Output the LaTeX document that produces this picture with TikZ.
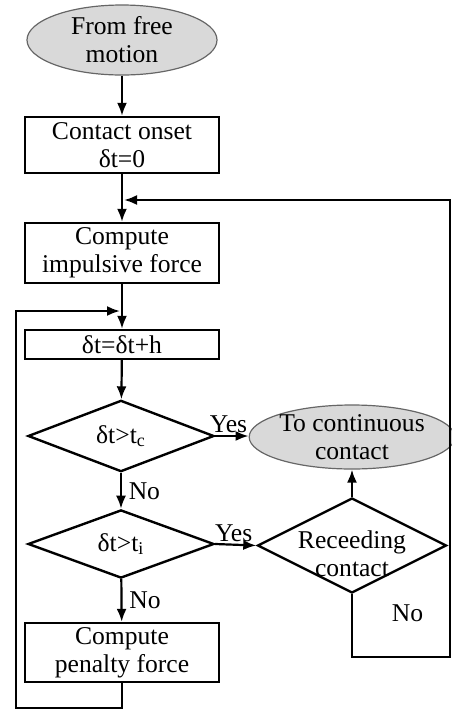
\documentclass[tikz,border=0pt]{standalone}
\usepackage{fontspec}
\setmainfont{Liberation Serif}
\usetikzlibrary{shapes.geometric,arrows.meta}

\begin{document}
\begin{tikzpicture}[x=0.5pt,y=-0.5pt,
    font=\fontsize{12.8pt}{14pt}\selectfont,
    term/.style={ellipse,draw=black!60,line width=0.6pt,fill=black!15,inner sep=0pt,align=center},
    proc/.style={rectangle,draw,line width=1.2pt,minimum width=97pt,inner sep=0pt,align=center},
    decide/.style={diamond,draw,line width=1.2pt,inner sep=0pt,minimum width=93pt,minimum height=31pt},
    flow/.style={-{Latex[length=6.5pt,width=5pt]},line width=1.1pt}]
  \useasboundingbox (0,0) rectangle (451,713);
  \node[term,minimum width=95pt,minimum height=35pt] (start) at (122,40) {From free\\motion};
  \node[proc,minimum height=28pt] (onset) at (122,145) {Contact onset\\δt=0};
  \node[proc,minimum height=30pt] (impulse) at (122,253) {Compute\\impulsive force};
  \node[proc,minimum height=14.5pt] (incr) at (122,344.5) {δt=δt+h};
  \node[decide] (tc) at (121,436) {δt>t\textsubscript{c}};
  \node[decide] (ti) at (121,544) {δt>t\textsubscript{i}};
  \node[proc,minimum height=29.5pt] (penalty) at (122,652.5) {Compute\\penalty force};
  \node[term,minimum width=94.5pt,minimum height=32pt] (cont) at (352,437) {To continuous\\contact};
  \node[decide,minimum width=94.5pt,minimum height=47.5pt,
    label={[align=center,yshift=-4pt]center:Receeding\\contact}] (recede) at (352,545.5) {};

  \coordinate (j1) at (124,200);
  \coordinate (r1) at (352,657);
  \coordinate (r2) at (450,657);
  \coordinate (r3) at (450,200);
  \coordinate (j2) at (120,311);
  \coordinate (p1) at (122,708);
  \coordinate (p2) at (16,708);
  \coordinate (p3) at (16,311);

  \draw[flow] (start) -- (onset);
  \draw[flow] (onset) -- (impulse);
  \draw[flow] (impulse) -- (incr);
  \draw[flow] (incr) -- (tc);
  \draw[flow] (tc) -- node[right]{No} (ti);
  \draw[flow] (ti) -- node[right]{No} (penalty);
  \draw[flow] (tc.east) -- node[above,inner sep=1pt,pos=0.4]{Yes} (tc.east -| cont.west);
  \draw[flow] (ti.east) -- node[above,inner sep=1pt,pos=0.45]{Yes} (recede.west);
  \draw[flow] (recede) -- (cont);
  \draw[flow] (recede.south) -- node[right=16pt,pos=0.3]{No} (r1) -- (r2) -- (r3) -- (j1);
  \draw[flow] (penalty) -- (p1) -- (p2) -- (p3) -- (j2);
\end{tikzpicture}
\end{document}
